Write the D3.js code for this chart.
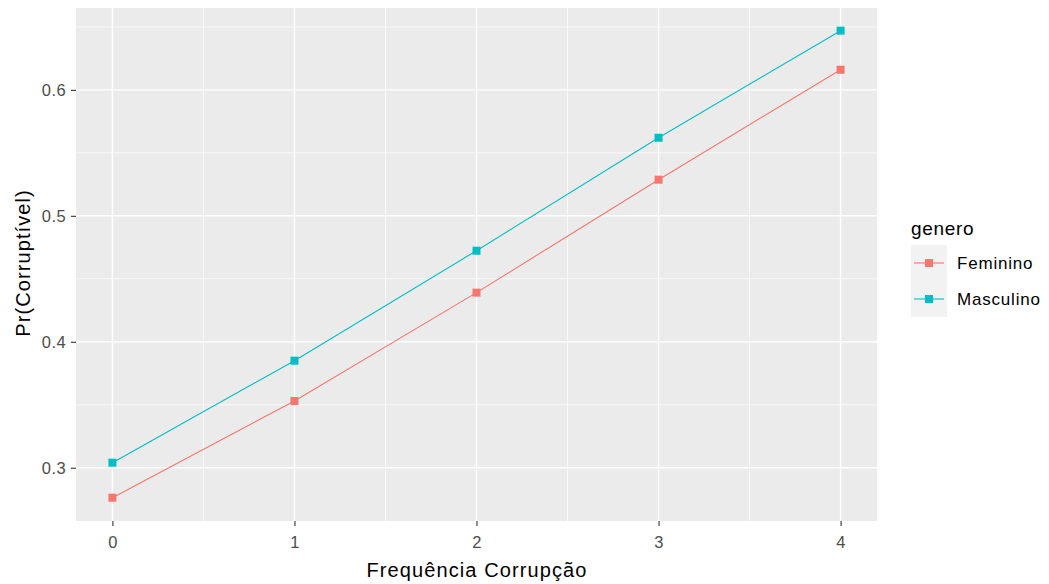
<!DOCTYPE html>
<html><head><meta charset="utf-8">
<script src="https://cdn.jsdelivr.net/npm/d3@7"></script>
<style>body{margin:0;background:#fff;}svg{display:block;font-family:"Liberation Sans",Arial,sans-serif;}</style>
</head><body><svg id="c" width="1049" height="584"></svg>
<script>
const xValues = [0, 1, 2, 3, 4];
const feminino = [0.2762, 0.3530, 0.4390, 0.5287, 0.6160];
const masculino = [0.3040, 0.3850, 0.4723, 0.5620, 0.6470];
const seriesNames = ["Feminino", "Masculino"];
const seriesColors = ["#F8766D", "#00BFC4"];
const yTicks = [0.3, 0.4, 0.5, 0.6];
const xTicks = [0, 1, 2, 3, 4];

const svg = d3.select("#c");
const L = 76, R = 877, T = 8, B = 521;
const x = d3.scaleLinear().domain([-0.2, 4.2]).range([L, R]);
const y = d3.scaleLinear().domain([0.2577, 0.6650]).range([B, T]);

svg.append("rect").attr("x", L).attr("y", T).attr("width", R - L).attr("height", B - T).attr("fill", "#EBEBEB");
const yMinor = [0.25, 0.35, 0.45, 0.55, 0.65].filter(v => v >= y.domain()[0] && v <= y.domain()[1]);
const xMinor = [0.5, 1.5, 2.5, 3.5];
const g = svg.append("g");
g.selectAll(".ym").data(yMinor).join("line").attr("x1", L).attr("x2", R).attr("y1", d => y(d)).attr("y2", d => y(d)).attr("stroke", "#fff").attr("stroke-width", 0.7);
g.selectAll(".xm").data(xMinor).join("line").attr("y1", T).attr("y2", B).attr("x1", d => x(d)).attr("x2", d => x(d)).attr("stroke", "#fff").attr("stroke-width", 0.7);
g.selectAll(".yM").data(yTicks).join("line").attr("x1", L).attr("x2", R).attr("y1", d => y(d)).attr("y2", d => y(d)).attr("stroke", "#fff").attr("stroke-width", 1.4);
g.selectAll(".xM").data(xTicks).join("line").attr("y1", T).attr("y2", B).attr("x1", d => x(d)).attr("x2", d => x(d)).attr("stroke", "#fff").attr("stroke-width", 1.4);

const xAxis = svg.append("g").attr("transform", `translate(0,${B})`)
  .call(d3.axisBottom(x).tickValues(xTicks).tickSize(5).tickPadding(10).tickFormat(d3.format("d")));
const yAxis = svg.append("g").attr("transform", `translate(${L},0)`)
  .call(d3.axisLeft(y).tickValues(yTicks).tickSize(5).tickPadding(5).tickFormat(d3.format(".1f")));
[xAxis, yAxis].forEach(a => {
  a.select(".domain").remove();
  a.selectAll(".tick line").attr("stroke", "#333").attr("stroke-width", 1.1);
  a.selectAll(".tick text").attr("fill", "#4D4D4D").attr("font-size", 16.5).attr("letter-spacing", 0.4)
    .attr("font-family", "Liberation Sans, Arial, sans-serif");
});

const data = [feminino, masculino];
const line = d3.line().x((d, i) => x(xValues[i])).y(d => y(d));
data.forEach((s, k) => {
  svg.append("path").datum(s).attr("d", line).attr("fill", "none").attr("stroke", seriesColors[k]).attr("stroke-width", 1.1);
  svg.selectAll(null).data(s).join("rect")
    .attr("x", (d, i) => x(xValues[i]) - 4).attr("y", d => y(d) - 4)
    .attr("width", 8).attr("height", 8).attr("fill", seriesColors[k]);
});

svg.append("text").attr("x", 477).attr("y", 577).attr("text-anchor", "middle")
  .attr("font-size", 20).attr("letter-spacing", 1.1).attr("fill", "#000").text("Frequência Corrupção");
svg.append("text").attr("transform", `translate(30,263) rotate(-90)`).attr("text-anchor", "middle")
  .attr("font-size", 20).attr("letter-spacing", 1.1).attr("fill", "#000").text("Pr(Corruptível)");

const lg = svg.append("g");
lg.append("text").attr("x", 911).attr("y", 235).attr("font-size", 19).attr("letter-spacing", 0.7).attr("fill", "#000").text("genero");
lg.append("rect").attr("x", 911).attr("y", 245).attr("width", 36).attr("height", 72).attr("fill", "#F2F2F2");
seriesNames.forEach((n, k) => {
  const cy = 263 + k * 36;
  lg.append("line").attr("x1", 914).attr("x2", 944).attr("y1", cy).attr("y2", cy).attr("stroke", seriesColors[k]).attr("stroke-width", 1.1);
  lg.append("rect").attr("x", 925).attr("y", cy - 4).attr("width", 8).attr("height", 8).attr("fill", seriesColors[k]);
  lg.append("text").attr("x", 957).attr("y", cy + 6).attr("font-size", 17).attr("letter-spacing", 0.8).attr("fill", "#000").text(n);
});
</script></body></html>
